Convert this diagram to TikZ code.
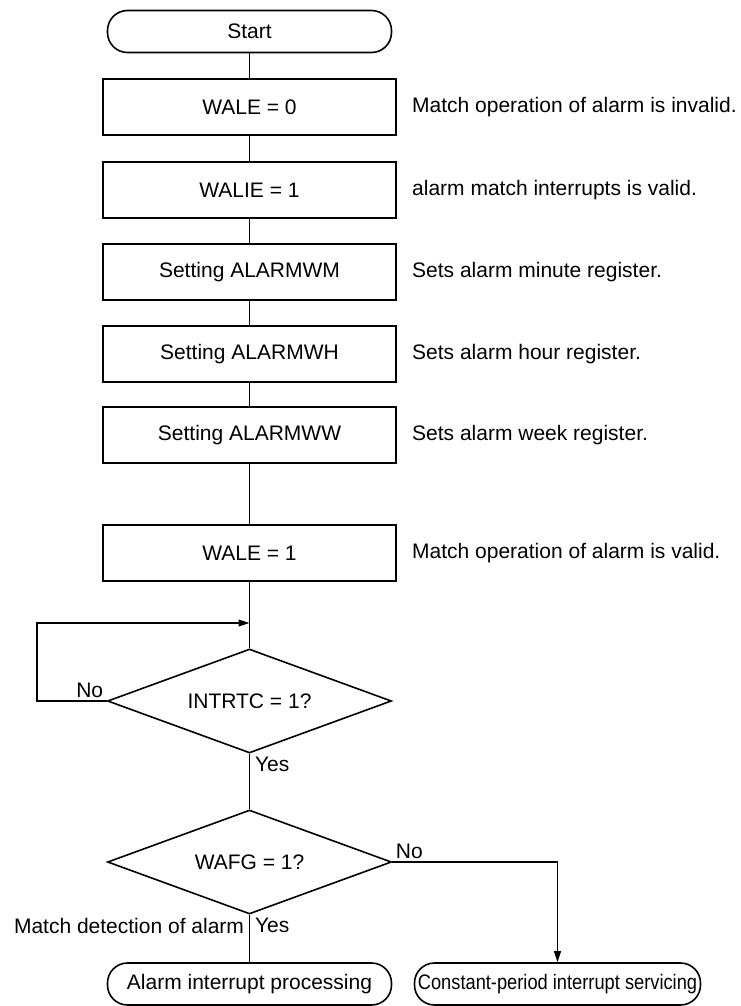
\documentclass[tikz,border=0pt]{standalone}
\usepackage{fontspec}
\setmainfont{Liberation Sans}
\usetikzlibrary{shapes.geometric,arrows.meta}
\begin{document}
\begin{tikzpicture}[x=1pt,y=-1pt,every node/.style={font=\fontsize{21}{25}\selectfont},
  procbox/.style={draw,line width=1.6pt,minimum width=293pt,minimum height=56pt,inner sep=0pt},
  termbox/.style={draw,line width=1.6pt,rounded corners=20pt,minimum width=284pt,minimum height=42pt,inner sep=0pt},
  decbox/.style={draw,line width=1.6pt,diamond,aspect=2.7,minimum width=284pt,minimum height=104pt,inner sep=0pt},
  note/.style={anchor=west,inner sep=0pt},
  flow/.style={line width=1.1pt},
  arr/.style={flow,-{Triangle[length=11pt,width=7pt]}}]
\useasboundingbox (0,0) rectangle (741,1006);
% Main column: start and register settings
\node[termbox] (start) at (249.5,31.5) {Start};
\foreach \n/\y/\t/\c in {b1/107/{WALE = 0}/{Match operation of alarm is invalid.},
  b2/190/{WALIE = 1}/{alarm match interrupts is valid.},
  b3/272/{Setting ALARMWM}/{Sets alarm minute register.},
  b4/354/{Setting ALARMWH}/{Sets alarm hour register.},
  b5/435/{Setting ALARMWW}/{Sets alarm week register.},
  b6/553/{WALE = 1}/{Match operation of alarm is valid.}} {
  \node[procbox] (\n) at (249.5,\y) {\t};
  \node[note] (\n note) at (412,\y) {\c};
}
\foreach \a/\b in {start/b1,b1/b2,b2/b3,b3/b4,b4/b5,b5/b6} {
  \draw[flow] (\a) -- (\b);
}
% Wait loop on INTRTC
\node[decbox] (d1) at (249.5,701) {INTRTC = 1?};
\coordinate (loopin) at (249.5,623);
\coordinate (loopleft) at (37,623);
\draw[flow] (b6) -- (d1);
\draw[arr] (d1.west) -| (loopleft) -- (loopin);
\node[anchor=south east] (no1) at (d1.west) {No};
\node[anchor=north west,xshift=2pt] (yes1) at (d1.south) {Yes};
% Alarm flag check and servicing
\node[decbox] (d2) at (249.5,862) {WAFG = 1?};
\node[termbox] (t1) at (249.5,984) {Alarm interrupt processing};
\node[termbox,minimum width=286pt] (t2) at (557.5,984) {\scalebox{0.87}[1]{Constant-period interrupt servicing}};
\draw[flow] (d1) -- (d2);
\draw[flow] (d2) -- (t1);
\draw[arr] (d2.east) -| (t2);
\node[anchor=south west] (no2) at (d2.east) {No};
\node[anchor=north west,xshift=2pt] (yes2) at (d2.south) {Yes};
\node[anchor=north east,xshift=-2pt] (match) at (d2.south) {Match detection of alarm};
\end{tikzpicture}
\end{document}
